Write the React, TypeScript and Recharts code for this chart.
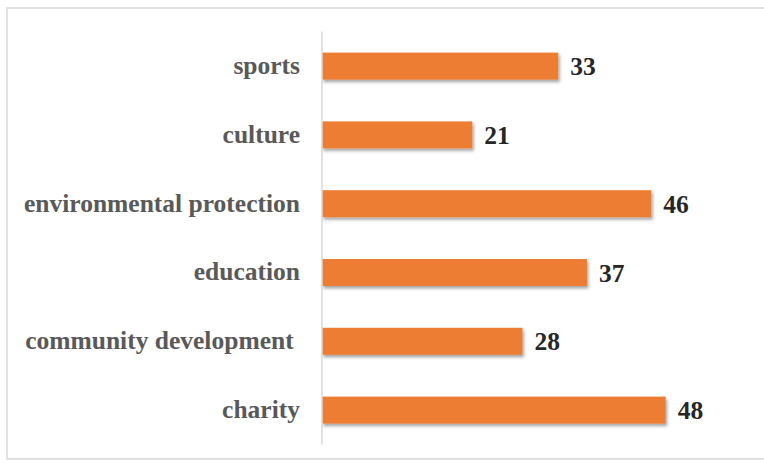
import React from 'react';
import { BarChart, Bar, XAxis, YAxis, LabelList } from 'recharts';

const categories = [
  'sports',
  'culture',
  'environmental protection',
  'education',
  'community development ',
  'charity',
];
const values = [33, 21, 46, 37, 28, 48];

const data = categories.map((c, i) => ({ name: c, value: values[i] }));

const FONT = '"Liberation Serif", "Times New Roman", serif';

const CategoryTick = (props: any) => {
  const { x, y, payload } = props;
  return (
    <text
      x={x}
      y={y}
      dy={8}
      textAnchor="end"
      fill="#595959"
      fontFamily={FONT}
      fontWeight="bold"
      fontSize={25.5}
      style={{ whiteSpace: 'pre' }}
    >
      {payload.value}
    </text>
  );
};

const ShadowBar = (props: any) => {
  const { x, y, width, height, fill, index } = props;
  return (
    <g>
      {index === 0 && (
        <defs>
          <filter id="barShadow" x="-5%" y="-30%" width="110%" height="170%">
            <feDropShadow dx="1.5" dy="2.5" stdDeviation="1.5" floodColor="#000" floodOpacity="0.35" />
          </filter>
        </defs>
      )}
      <rect x={x} y={y} width={width} height={height} fill={fill} filter="url(#barShadow)" />
    </g>
  );
};

export default function App() {
  return (
    <div style={{ position: 'absolute', left: 0, top: 0, width: 764, height: 466, background: '#fff' }}>
      <div
        style={{
          position: 'absolute',
          left: 6,
          top: 7,
          width: 770,
          height: 453,
          border: '2px solid #e2e2e2',
          boxSizing: 'border-box',
        }}
      />
      <div style={{ position: 'absolute', left: 0, top: 0 }}>
        <BarChart
          width={764}
          height={466}
          data={data}
          layout="vertical"
          margin={{ top: 31.6, right: 84, bottom: 21.6, left: 0 }}
          barSize={27}
        >
          <XAxis type="number" domain={[0, 50]} hide />
          <YAxis
            type="category"
            dataKey="name"
            width={322}
            axisLine={{ stroke: '#d9d9d9', strokeWidth: 1.5 }}
            tickLine={false}
            tickSize={0}
            tickMargin={22}
            tick={<CategoryTick />}
            interval={0}
          />
          <Bar dataKey="value" fill="#ED7D31" isAnimationActive={false} shape={<ShadowBar />}>
            <LabelList
              dataKey="value"
              position="right"
              offset={12}
              fill="#262626"
              fontFamily={FONT}
              fontWeight="bold"
              fontSize={25.5}
            />
          </Bar>
        </BarChart>
      </div>
    </div>
  );
}
